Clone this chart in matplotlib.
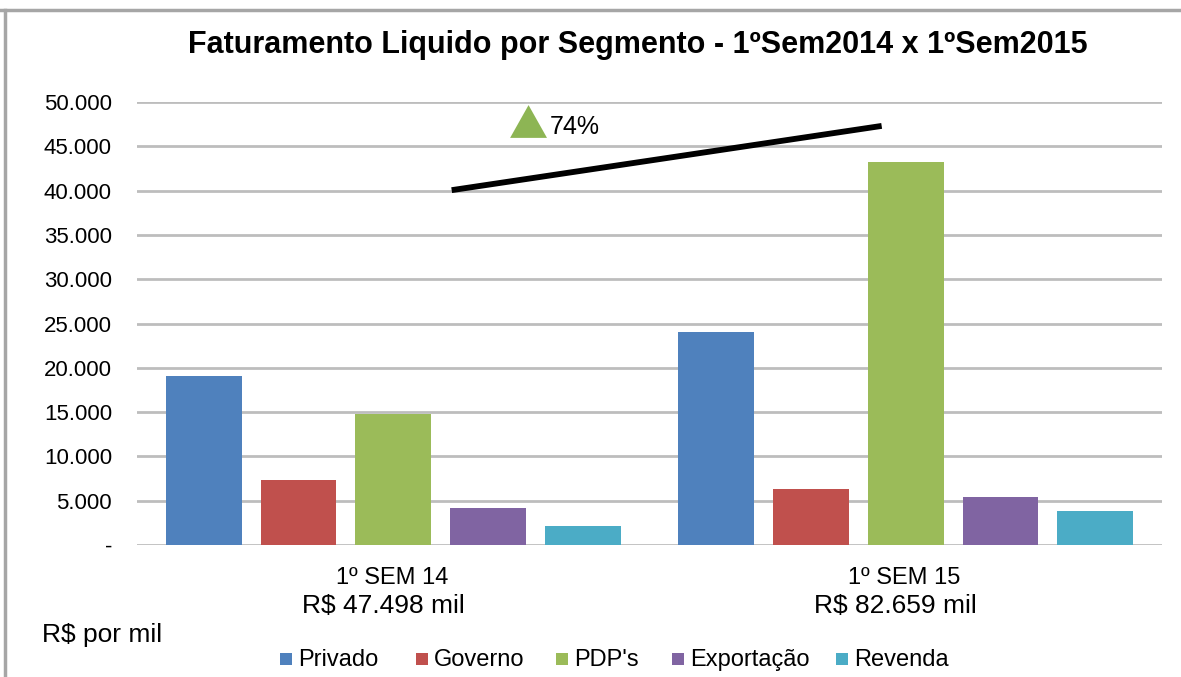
import matplotlib.pyplot as plt
import matplotlib.transforms as mtransforms
import numpy as np
from matplotlib.patches import Polygon, Rectangle

plt.rcParams["font.family"] = ["Liberation Sans", "DejaVu Sans"]

semesters = ["1º SEM 14", "1º SEM 15"]
totals = ["R$ 47.498 mil", "R$ 82.659 mil"]
segments = ["Privado", "Governo", "PDP's", "Exportação", "Revenda"]
privado = [19100, 24000]
governo = [7300, 6300]
pdps = [14800, 43200]
exportacao = [4200, 5400]
revenda = [2100, 3800]
yticks = [0, 5000, 10000, 15000, 20000, 25000, 30000, 35000, 40000, 45000, 50000]
growth_label = "74%"

colors = ["#4F81BD", "#C0504D", "#9BBB59", "#8064A2", "#4BACC6"]


def main():
    W, H = 1181, 677
    fig = plt.figure(figsize=(W / 100, H / 100), dpi=100)
    ax = fig.add_axes([137 / W, 1 - 545 / H, 1025 / W, 443 / H])

    series = [privado, governo, pdps, exportacao, revenda]
    x = np.arange(len(semesters))
    step = 0.185
    width = 0.148
    for ii, (vals, color, label) in enumerate(zip(series, colors, segments)):
        ax.bar(x + (ii - 2) * step, vals, width=width, color=color, label=label, zorder=3)

    ax.set_xlim(-0.5, 1.5)
    ax.set_ylim(0, 50000)
    ax.set_yticks(yticks)
    ax.set_yticklabels(["-" if v == 0 else f"{v:,}".replace(",", ".") for v in yticks], fontsize=16)
    ax.yaxis.grid(True, color="#BDBDBD", linewidth=2, zorder=0)
    ax.tick_params(axis="y", length=0, pad=18)
    ax.set_xticks([])
    for side in ["top", "right", "left", "bottom"]:
        ax.spines[side].set_visible(False)

    # category labels with totals underneath
    trans = mtransforms.blended_transform_factory(ax.transData, ax.transAxes)
    for xx, sem, tot in zip(x, semesters, totals):
        ax.text(xx - 0.003, -0.075, sem, transform=trans, ha="center", va="center", fontsize=17)
        ax.text(xx - 0.02, -0.138, tot, transform=trans, ha="center", va="center", fontsize=19)

    # growth annotation
    ax.plot([0.307, 0.7265], [0.801, 0.946], transform=ax.transAxes, color="black",
            linewidth=4.2, solid_capstyle="butt", zorder=5, clip_on=False)
    tri = Polygon([[0.364, 0.919], [0.382, 0.993], [0.400, 0.919]], closed=True,
                  transform=ax.transAxes, facecolor="#8DB554", edgecolor="none", zorder=5, clip_on=False)
    ax.add_patch(tri)
    ax.text(0.403, 0.944, growth_label, transform=ax.transAxes, ha="left", va="center", fontsize=18)

    fig.suptitle("Faturamento Liquido por Segmento - 1ºSem2014 x 1ºSem2015",
                 x=638 / W, y=1 - 45 / H, va="center", fontsize=22, fontweight="bold")

    fig.text(42 / W, 1 - 635 / H, "R$ por mil", ha="left", va="center", fontsize=19)

    # legend, laid out by hand so all labels share one baseline
    legend_x = [280, 416, 556, 672, 836]
    for lx, color, label in zip(legend_x, colors, segments):
        fig.add_artist(Rectangle((lx / W, 1 - 665 / H), 12 / W, 12 / H, transform=fig.transFigure,
                                 facecolor=color, edgecolor="none"))
        fig.text((lx + 18) / W, 1 - 666 / H, label, ha="left", va="baseline", fontsize=17)

    # outer frame
    fig.add_artist(plt.Line2D([0, 1], [1 - 10 / H, 1 - 10 / H], color="#A6A6A6", linewidth=2.5))
    fig.add_artist(plt.Line2D([5 / W, 5 / W], [0, 1 - 10 / H], color="#A6A6A6", linewidth=2.5))

    fig.savefig("out.png", dpi=100)
    plt.close(fig)


if __name__ == "__main__":
    main()
